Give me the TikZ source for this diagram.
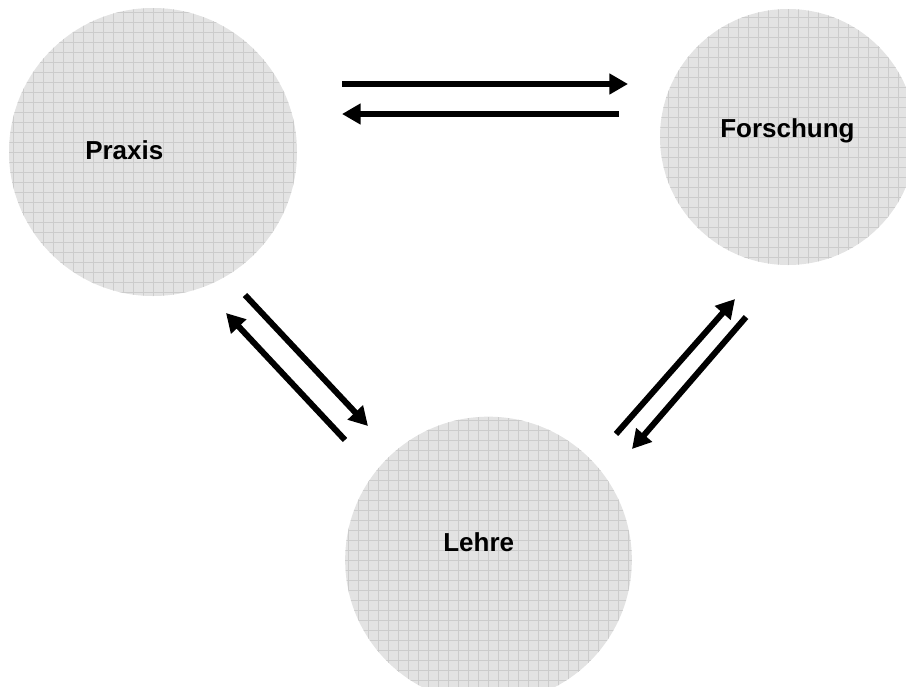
\documentclass[tikz,border=0pt]{standalone}
\usepackage{fontspec}
\setmainfont{Liberation Sans}
\usepackage{tikz}
\usetikzlibrary{arrows.meta}
\usepackage{xcolor}
\definecolor{discfill}{HTML}{E3E3E3}
\definecolor{discgrid}{HTML}{CCCCCC}

\tikzset{
  disc/.style={circle, fill=discfill, inner sep=0pt,
    path picture={\draw[discgrid, line width=0.5pt, step=7.5pt]
      (path picture bounding box.south west) grid (path picture bounding box.north east);}},
  word/.style={font=\fontsize{19.5}{23}\selectfont\bfseries, inner sep=0pt, anchor=base west},
  flow/.style={line width=4.5pt, -{Triangle[length=14pt,width=15pt]}}
}

\begin{document}
\begin{tikzpicture}[x=0.75pt, y=-0.75pt]
        \useasboundingbox (0,0) rectangle (906,686);
        % Circles
        \node[disc, minimum size=216pt] (praxis) at (153,152) {};
        \node[disc, minimum size=192pt] (forschung) at (788,137) {};
        \node[disc, minimum size=215pt] (lehre) at (488.5,560) {};
        % Names
        \node[word] (praxistext) at (85,159) {Praxis};
        \node[word] (forschungtext) at (720,137) {Forschung};
        \node[word] (lehretext) at (443,551) {Lehre};
        % Arrow ends
        \coordinate (pf1) at (342,84);   \coordinate (pf2) at (628,84);
        \coordinate (fp1) at (619,114);  \coordinate (fp2) at (342,114);
        \coordinate (pl1) at (245,295);  \coordinate (pl2) at (368,426);
        \coordinate (lp1) at (345,440);  \coordinate (lp2) at (226,313);
        \coordinate (lf1) at (616,434);  \coordinate (lf2) at (735,299);
        \coordinate (fl1) at (746,317);  \coordinate (fl2) at (632,449);
        % Arrows
        \draw[flow] (pf1) -- (pf2);
        \draw[flow] (fp1) -- (fp2);
        \draw[flow] (pl1) -- (pl2);
        \draw[flow] (lp1) -- (lp2);
        \draw[flow] (lf1) -- (lf2);
        \draw[flow] (fl1) -- (fl2);
    \end{tikzpicture}
\end{document}
